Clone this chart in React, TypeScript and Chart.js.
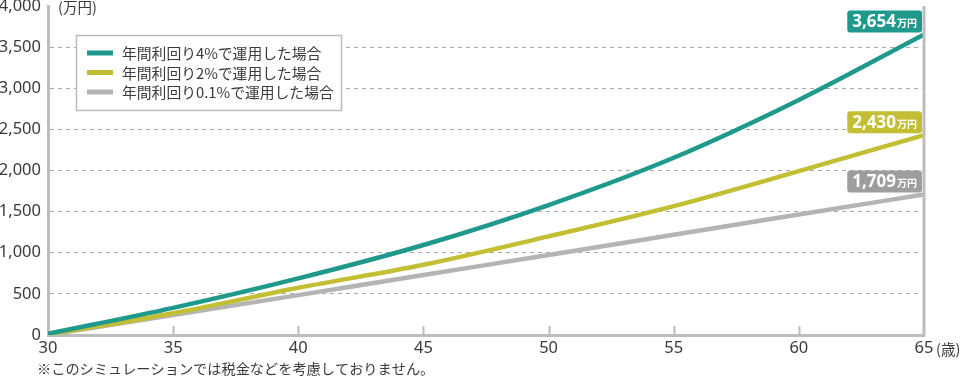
import React, { useEffect, useRef } from "react";
import { Chart, registerables } from "chart.js";

Chart.register(...registerables);

const AGES = [30, 35, 40, 45, 50, 55, 60, 65];
const RATE_4 = [15, 330, 688, 1094, 1580, 2155, 2858, 3654];
const RATE_2 = [8, 265, 574, 854, 1199, 1567, 1992, 2430];
const RATE_01 = [4, 242, 485, 730, 972, 1220, 1465, 1709];
const SERIES_LABELS = [
  "年間利回り4%で運用した場合",
  "年間利回り2%で運用した場合",
  "年間利回り0.1%で運用した場合",
];
const LINE_COLORS = ["#1f998b", "#c3bf35", "#b4b4b4"];
const BOX_COLORS = ["#1f998b", "#c3bf35", "#9d9d9d"];
const Y_UNIT = "(万円)";
const X_UNIT = "(歳)";
const VALUE_UNIT = "万円";
const FOOTNOTE = "※このシミュレーションでは税金などを考慮しておりません。";

const FONT = "'Noto Sans', 'Noto Sans CJK JP', sans-serif";
const JFONT = "'Noto Sans CJK JP', 'Noto Sans', sans-serif";
const TEXT = "#3a3a3a";
const AXIS = "#bdbdbd";

const extras = {
  id: "extras",
  afterDatasetsDraw(chart: any) {
    const ctx = chart.ctx;
    const a = chart.chartArea;
    const xs = chart.scales.x;
    ctx.save();
    // right border
    ctx.strokeStyle = AXIS;
    ctx.lineWidth = 3;
    ctx.beginPath();
    ctx.moveTo(a.right, a.top);
    ctx.lineTo(a.right, a.bottom + 1.5);
    ctx.stroke();
    // tick marks going up
    ctx.lineWidth = 2;
    for (const v of AGES) {
      if (v === AGES[0] || v === AGES[AGES.length - 1]) continue;
      const px = Math.round(xs.getPixelForValue(v)) + 0.5;
      ctx.beginPath();
      ctx.moveTo(px, a.bottom);
      ctx.lineTo(px, a.bottom - 9);
      ctx.stroke();
    }
    // legend
    ctx.fillStyle = "#ffffff";
    ctx.fillRect(76, 35, 265, 76);
    ctx.strokeStyle = "#bbbbbb";
    ctx.lineWidth = 1.5;
    ctx.strokeRect(76.5, 35.5, 265, 75);
    ctx.font = `14.8px ${JFONT}`;
    ctx.textBaseline = "middle";
    ctx.textAlign = "left";
    SERIES_LABELS.forEach((lab, i) => {
      const y = 53 + i * 19.5;
      ctx.strokeStyle = LINE_COLORS[i];
      ctx.lineWidth = 5;
      ctx.beginPath();
      ctx.moveTo(87, y);
      ctx.lineTo(113, y);
      ctx.stroke();
      ctx.fillStyle = TEXT;
      ctx.fillText(lab, 122, y + 0.5);
    });
    // end labels
    chart.data.datasets.forEach((ds: any, i: number) => {
      const meta = chart.getDatasetMeta(i);
      const pt = meta.data[meta.data.length - 1];
      const val = ds.data[ds.data.length - 1].y;
      const num = val.toLocaleString("en-US");
      ctx.font = `bold 17px ${FONT}`;
      const w1 = ctx.measureText(num).width;
      ctx.font = `bold 10px ${JFONT}`;
      const w2 = ctx.measureText(VALUE_UNIT).width;
      const pad = 5;
      const w = w1 + w2 + pad * 2 + 1;
      const h = 22;
      const right = pt.x - 2;
      const bottom = pt.y - 2;
      const left = right - w;
      const top = bottom - h;
      ctx.fillStyle = BOX_COLORS[i];
      ctx.beginPath();
      (ctx as any).roundRect(left, top, w, h, 3);
      ctx.fill();
      ctx.fillStyle = "#ffffff";
      ctx.textBaseline = "alphabetic";
      ctx.font = `bold 17px ${FONT}`;
      ctx.fillText(num, left + pad, top + 17);
      ctx.font = `bold 10px ${JFONT}`;
      ctx.fillText(VALUE_UNIT, left + pad + w1 + 1, top + 17);
    });
    // units and footnote
    ctx.fillStyle = TEXT;
    ctx.textBaseline = "middle";
    ctx.font = `14.5px ${JFONT}`;
    ctx.fillText(Y_UNIT, 58, 7);
    ctx.fillText(X_UNIT, 936, 349);
    ctx.font = `14.2px ${JFONT}`;
    ctx.fillText(FOOTNOTE, 37, 369);
    ctx.restore();
  },
};

export default function App() {
  const ref = useRef<HTMLCanvasElement>(null);
  useEffect(() => {
    document.body.style.margin = "0";
    const toPts = (arr: number[]) => AGES.map((x, i) => ({ x, y: arr[i] }));
    const chart = new Chart(ref.current!, {
      type: "line",
      data: {
        datasets: [RATE_4, RATE_2, RATE_01].map((arr, i) => ({
          label: SERIES_LABELS[i],
          data: toPts(arr),
          borderColor: LINE_COLORS[i],
          borderWidth: 4.5,
          pointRadius: 0,
          fill: false,
          cubicInterpolationMode: "monotone" as const,
          borderCapStyle: "butt" as const,
        })),
      },
      options: {
        responsive: false,
        animation: false,
        devicePixelRatio: 1,
        layout: { padding: { top: 6, right: 36, left: 0, bottom: 0 } },
        plugins: { legend: { display: false }, tooltip: { enabled: false } },
        scales: {
          x: {
            type: "linear",
            min: 30,
            max: 65,
            afterFit: (s: any) => {
              s.height = 44;
              s.paddingLeft = 0;
              s.paddingRight = 0;
            },
            ticks: {
              stepSize: 5,
              color: TEXT,
              font: { family: FONT, size: 16.5 },
              padding: 3,
              maxRotation: 0,
            },
            grid: { display: false, drawTicks: false },
            border: { color: AXIS, width: 3 },
          },
          y: {
            min: 0,
            max: 4000,
            afterFit: (s: any) => {
              s.width = 48;
              s.paddingTop = 0;
              s.paddingBottom = 0;
            },
            ticks: {
              stepSize: 500,
              color: TEXT,
              font: { family: FONT, size: 16.5 },
              padding: 7,
              callback: (v: any) => Number(v).toLocaleString("en-US"),
            },
            grid: {
              drawTicks: false,
              color: (c: any) =>
                c.tick && (c.tick.value === 0 || c.tick.value === 4000)
                  ? "rgba(0,0,0,0)"
                  : "#a8a8a8",
              lineWidth: 1,
            },
            border: { color: AXIS, width: 3, dash: [4, 4] },
          } as any,
        },
      },
      plugins: [extras],
    });
    return () => chart.destroy();
  }, []);
  return (
    <div style={{ position: "absolute", left: 0, top: 0, width: 960, height: 379 }}>
      <canvas ref={ref} width={960} height={379} />
    </div>
  );
}
